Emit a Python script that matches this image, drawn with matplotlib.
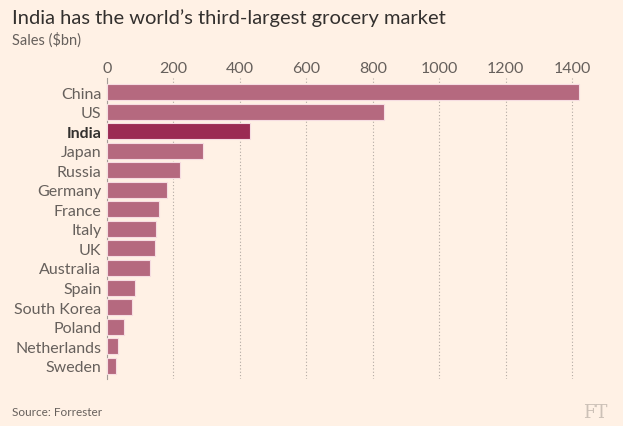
import numpy as np
import matplotlib.pyplot as plt

# Grocery sales by country, $bn
countries = ["China", "US", "India", "Japan", "Russia", "Germany", "France",
             "Italy", "UK", "Australia", "Spain", "South Korea", "Poland",
             "Netherlands", "Sweden"]
sales = [1420, 835, 430, 289, 220, 181, 158, 149, 144, 130, 85, 74, 51, 34, 27]
ticks = [0, 200, 400, 600, 800, 1000, 1200, 1400]
highlight = "India"

bg = "#fff1e5"
bar_col = "#b5697f"
hi_col = "#9b2b53"
txt = "#66605c"

plt.rcParams['font.family'] = ['Lato', 'DejaVu Sans']

fig = plt.figure(figsize=(6.23, 4.27), dpi=100, facecolor=bg)
ax = fig.add_axes([107 / 623, 1 - 380 / 427, 485 / 623, 301 / 427])
ax.set_facecolor(bg)

y = np.arange(len(countries))
colors = [hi_col if c == highlight else bar_col for c in countries]
ax.barh(y, sales, height=0.82, color=colors, edgecolor="#f6dde2", linewidth=0.8, zorder=3)

ax.set_ylim(len(countries) - 0.32, -0.72)
ax.set_xlim(0, 1460)
ax.set_xticks(ticks)
ax.xaxis.tick_top()
ax.tick_params(axis="x", length=0, pad=2, labelsize=11.5, labelcolor=txt)
ax.tick_params(axis="y", length=0, pad=4, labelsize=11.5, labelcolor=txt)
ax.set_yticks(y)
ax.set_yticklabels(countries)
for lab in ax.get_yticklabels():
    if lab.get_text() == highlight:
        lab.set_fontweight("bold")
        lab.set_color("#33302e")

ax.grid(axis="x", color="#b3aaa3", linestyle=(0, (1, 2)), linewidth=0.8, zorder=0)
for s in ["top", "right", "bottom"]:
    ax.spines[s].set_visible(False)
ax.spines["left"].set_color("#a39d98")
ax.spines["left"].set_linewidth(0.8)

fig.text(12 / 623, 1 - 18 / 427, "India has the world\u2019s third-largest grocery market",
         fontsize=14.5, color="#33302e", va="center", ha="left")
fig.text(12 / 623, 1 - 40 / 427, "Sales ($bn)", fontsize=10.5, color=txt, va="center", ha="left")
fig.text(12 / 623, 1 - 413 / 427, "Source: Forrester", fontsize=8.5, color=txt, va="center", ha="left")
fig.text(607 / 623, 1 - 413 / 427, "FT", fontsize=13, color="#ccc1b7", va="center", ha="right",
         family="DejaVu Serif")

fig.savefig("out.png", dpi=100, facecolor=bg)
